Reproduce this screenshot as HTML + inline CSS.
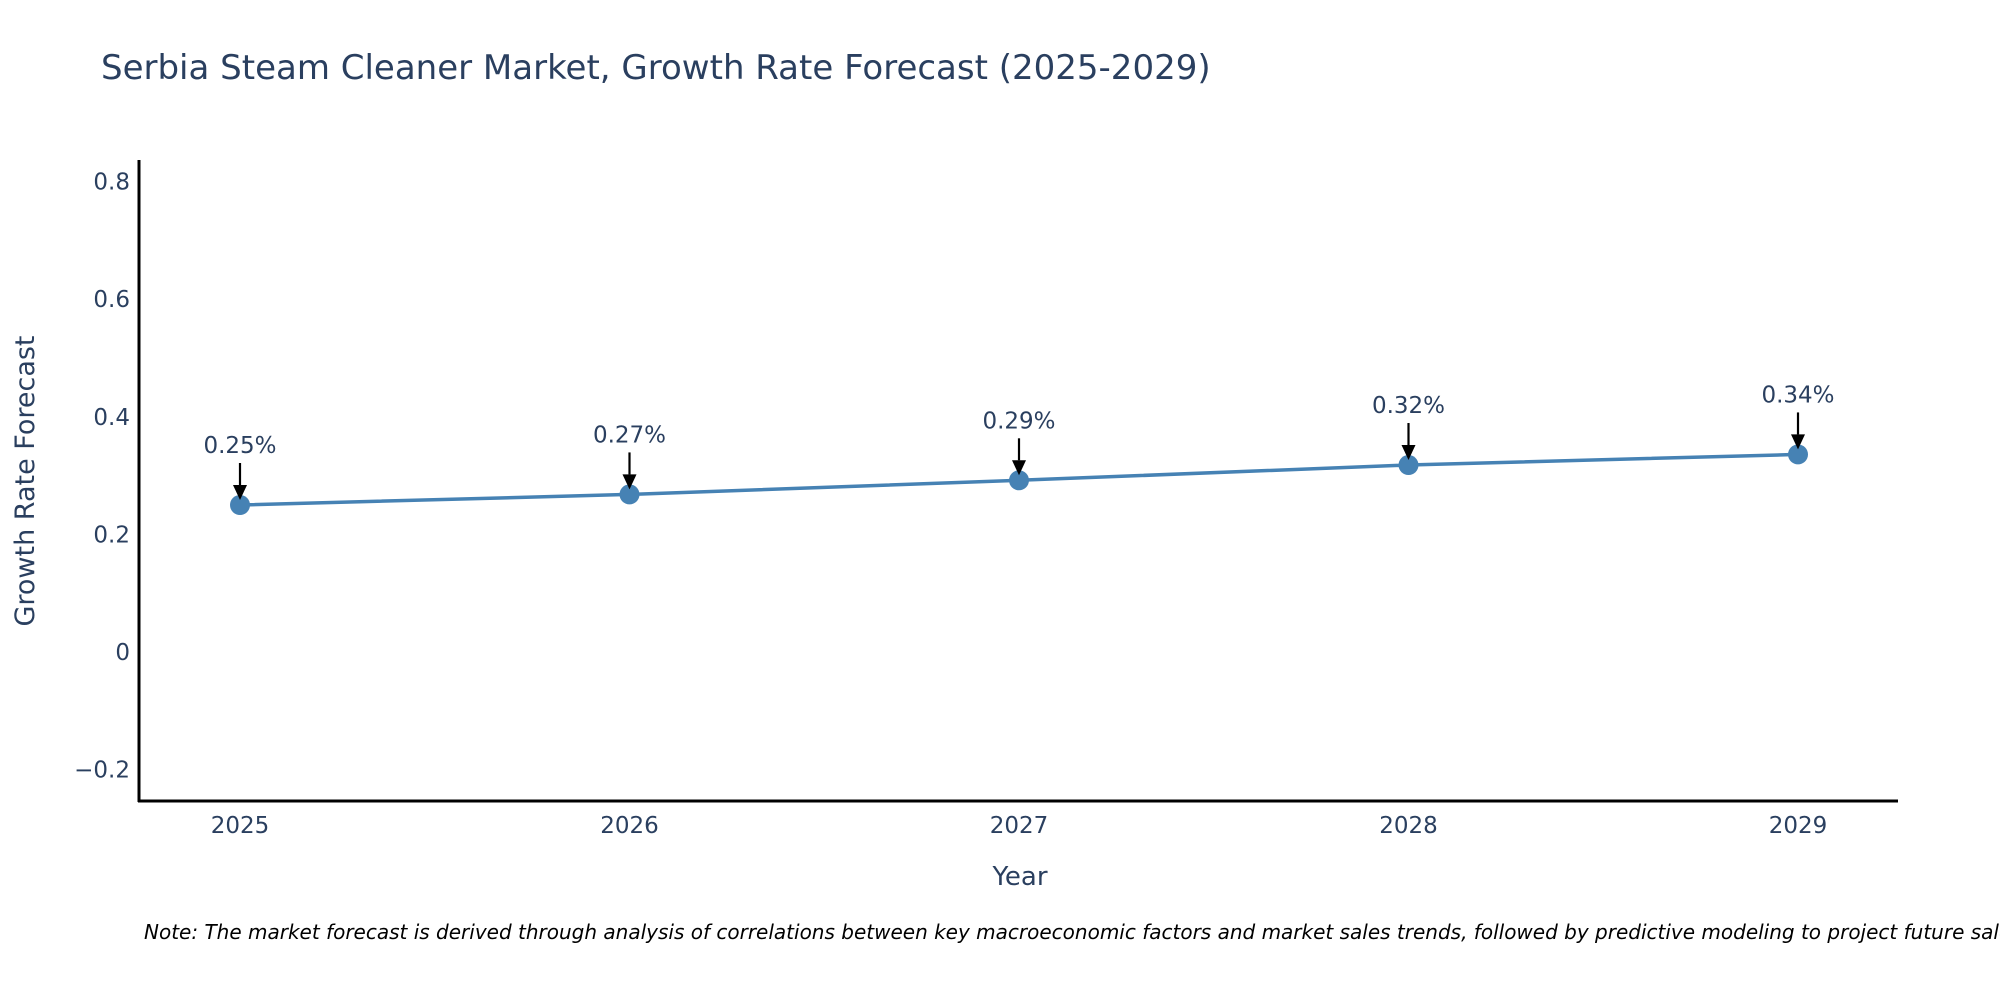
<!DOCTYPE html>
<html><head><meta charset="utf-8"><style>
body{margin:0;background:#fff;}
svg{display:block;font-family:"DejaVu Sans","Liberation Sans",sans-serif;}
</style></head><body>
<svg id="chart" width="2000" height="1000">
<defs><marker id="ah" viewBox="0 0 10 10" refX="9" refY="5" markerWidth="7" markerHeight="7" markerUnits="userSpaceOnUse" orient="auto"></marker>
<marker id="ah2" viewBox="0 0 10 10" refX="9" refY="5" markerWidth="8" markerHeight="8" orient="auto"><path d="M0,0 L10,5 L0,10 z" fill="#000"/></marker></defs>
<text x="101" y="79" font-size="34" fill="#2a3f5f">Serbia Steam Cleaner Market, Growth Rate Forecast (2025-2029)</text>
<g id="yticks"></g><g id="xticks"></g>
<line x1="139" y1="160" x2="139" y2="802" stroke="#000" stroke-width="3"/>
<line x1="138" y1="801" x2="1898" y2="801" stroke="#000" stroke-width="3"/>
<text x="1020" y="885" font-size="26" fill="#2a3f5f" text-anchor="middle">Year</text>
<text transform="translate(34,481) rotate(-90)" font-size="27" fill="#2a3f5f" text-anchor="middle">Growth Rate Forecast</text>
<g id="series"></g>
<text x="144" y="939" font-size="20" font-style="italic" fill="#000">Note: The market forecast is derived through analysis of correlations between key macroeconomic factors and market sales trends, followed by predictive modeling to project future sales.</text>
</svg>
<script>
const years=[2025,2026,2027,2028,2029];
const values=[0.25,0.268,0.292,0.318,0.336];
const labels=["0.25%","0.27%","0.29%","0.32%","0.34%"];
const yTicks=[-0.2,0,0.2,0.4,0.6,0.8];
const yTickLabels=["\u22120.2","0","0.2","0.4","0.6","0.8"];
const NS="http://www.w3.org/2000/svg";
const xS=y=>240+(y-2025)*389.5;
const yS=v=>652-v*588;
function mk(tag,attrs,parent){const e=document.createElementNS(NS,tag);for(const k in attrs)e.setAttribute(k,attrs[k]);parent.appendChild(e);return e;}
const yt=document.getElementById('yticks'),xt=document.getElementById('xticks'),sr=document.getElementById('series');
yTicks.forEach((v,i)=>{const t=mk('text',{x:130,y:yS(v)+8,'font-size':23,fill:'#2a3f5f','text-anchor':'end'},yt);t.textContent=yTickLabels[i];

});
years.forEach(y=>{const t=mk('text',{x:xS(y),y:833,'font-size':23,fill:'#2a3f5f','text-anchor':'middle'},xt);t.textContent=y;

});
const pl=mk('polyline',{points:years.map((y,i)=>xS(y)+','+yS(values[i])).join(' '),fill:'none',stroke:'#4682b4','stroke-width':3.5},sr);


years.forEach((y,i)=>{const cx=xS(y),cy=yS(values[i]);
const c=mk('circle',{cx:cx,cy:cy,r:10,fill:'#4682b4'},sr);


const a=mk('line',{x1:cx,y1:cy-42,x2:cx,y2:cy-20,stroke:'#000','stroke-width':2.2},sr);


const h=mk('path',{d:`M${cx-7},${cy-20} L${cx+7},${cy-20} L${cx},${cy-5} z`,fill:'#000'},sr);


const t=mk('text',{x:cx,y:cy-52,'font-size':23,fill:'#2a3f5f','text-anchor':'middle'},sr);t.textContent=labels[i];

});
</script>
</body></html>
